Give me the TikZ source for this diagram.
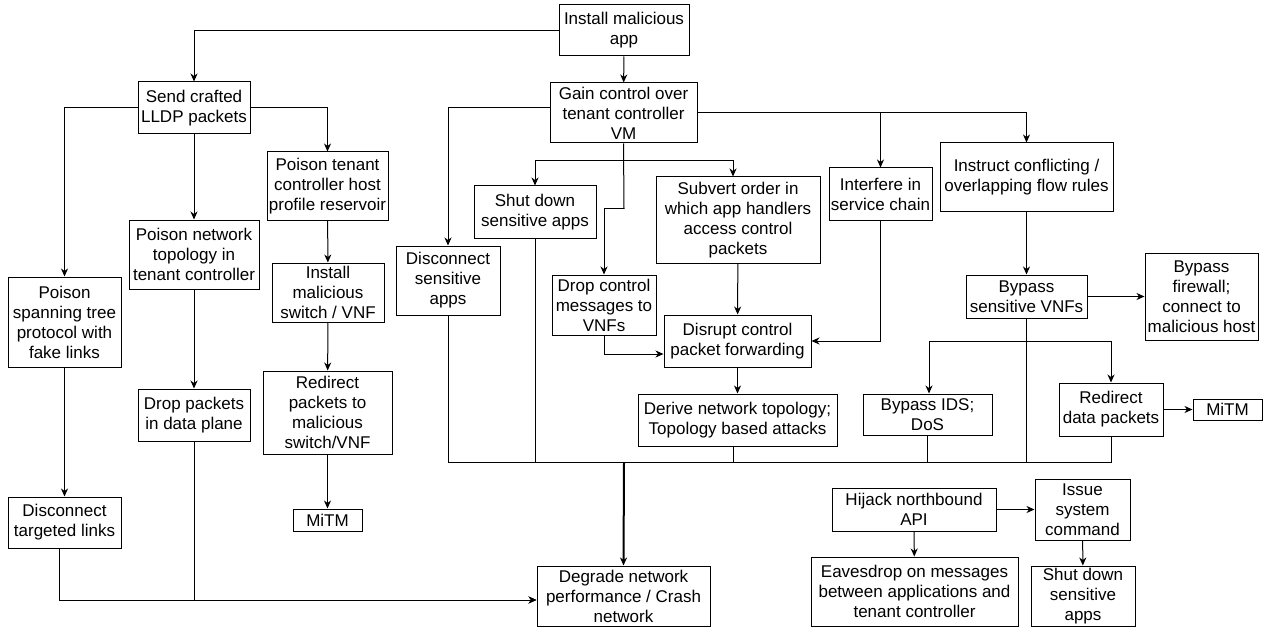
\documentclass[tikz,border=0pt]{standalone}
\usepackage{fontspec}
\setmainfont{Liberation Sans}
\usetikzlibrary{arrows.meta,calc,positioning}

\begin{document}
\begin{tikzpicture}[x=1pt,y=-1pt,
    box/.style={draw,line width=1pt,align=center,inner sep=0pt,font=\fontsize{17}{20}\selectfont},
    wire/.style={line width=1pt},
    arr/.style={line width=1pt,-{Stealth[length=8pt,width=7pt,inset=2.5pt]}}]
  \useasboundingbox (0,0) rectangle (1271,631);

  % top of the tree
  \node[box,minimum width=130,minimum height=51] (app) at (624,30.5) {Install malicious\\app};
  \node[box,minimum width=147,minimum height=60] (gain) at (623.5,113) {Gain control over\\tenant controller\\VM};
  \node[box,minimum width=112,minimum height=52] (lldp) at (194,108) {Send crafted\\LLDP packets};

  % LLDP branch
  \node[box,minimum width=121,minimum height=68] (hostprof) at (327.5,186) {Poison tenant\\controller host\\profile reservoir};
  \node[box,minimum width=130,minimum height=69] (poisontopo) at (194,254.5) {Poison network\\topology in\\tenant controller};
  \node[box,minimum width=113,minimum height=90] (stp) at (64.5,322) {Poison\\spanning tree\\protocol with\\fake links};
  \node[box,minimum width=112,minimum height=59] (instsw) at (328,292.5) {Install\\malicious\\switch / VNF};
  \node[box,minimum width=129,minimum height=83] (redir) at (327.5,412.5) {Redirect\\packets to\\malicious\\switch/VNF};
  \node[box,minimum width=69,minimum height=22] (mitmA) at (327.5,520) {MiTM};
  \node[box,minimum width=112,minimum height=52] (droppkt) at (194,415) {Drop packets\\in data plane};
  \node[box,minimum width=113,minimum height=51] (disclink) at (64.5,522.5) {Disconnect\\targeted links};

  % controller branch
  \node[box,minimum width=104,minimum height=69] (discapp) at (448,280.5) {Disconnect\\sensitive\\apps};
  \node[box,minimum width=122,minimum height=52] (shutA) at (535,212) {Shut down\\sensitive apps};
  \node[box,minimum width=104,minimum height=60] (dropctl) at (604,305) {Drop control\\messages to\\VNFs};
  \node[box,minimum width=164,minimum height=86] (subvert) at (738,220) {Subvert order in\\which app handlers\\access control\\packets};
  \node[box,minimum width=147,minimum height=52] (disrupt) at (737.5,341) {Disrupt control\\packet forwarding};
  \node[box,minimum width=199,minimum height=52] (derive) at (737.5,420) {Derive network topology;\\Topology based attacks};
  \node[box,minimum width=103,minimum height=52] (interf) at (880.5,194) {Interfere in\\service chain};
  \node[box,minimum width=173,minimum height=69] (instruct) at (1026.5,177.5) {Instruct conflicting /\\overlapping flow rules};
  \node[box,minimum width=121,minimum height=43] (bypvnf) at (1026.5,296.5) {Bypass\\sensitive VNFs};
  \node[box,minimum width=113,minimum height=87] (bypfw) at (1201.5,296.5) {Bypass\\firewall;\\connect to\\malicious host};
  \node[box,minimum width=129,minimum height=41] (bypids) at (927.5,414.5) {Bypass IDS;\\DoS};
  \node[box,minimum width=104,minimum height=53] (redird) at (1111,409.5) {Redirect\\data packets};
  \node[box,minimum width=69,minimum height=21] (mitmB) at (1227.5,409.5) {MiTM};
  \node[box,minimum width=173,minimum height=60] (degrade) at (623.5,596) {Degrade network\\performance / Crash\\network};

  % northbound API
  \node[box,minimum width=164,minimum height=43] (hijack) at (914,509.5) {Hijack northbound\\API};
  \node[box,minimum width=207,minimum height=69] (eaves) at (914.5,591.5) {Eavesdrop on messages\\between applications and\\tenant controller};
  \node[box,minimum width=95,minimum height=61] (issue) at (1082.5,509.5) {Issue\\system\\command};
  \node[box,minimum width=104,minimum height=60] (shutB) at (1083,596) {Shut down\\sensitive\\apps};

  \coordinate (ga) at (624,161);
  \coordinate (gb) at (624,209);
  \coordinate (vb) at (1026.5,341);
  \coordinate (bus) at (624,462);

  \draw[arr] (app.west) -| (lldp.north);
  \draw[arr] (app) -- (gain);
  \draw[arr] (lldp.west) -| (stp.north);
  \draw[arr] (lldp.east) -| (hostprof.north);
  \draw[arr] (lldp) -- (poisontopo);
  \draw[arr] (poisontopo) -- (droppkt);
  \draw[arr] (hostprof) -- (instsw);
  \draw[arr] (instsw) -- (redir);
  \draw[arr] (redir) -- (mitmA);
  \draw[arr] (stp) -- (disclink);

  \draw[arr] ([yshift=5]gain.west) -| (discapp.north);
  \draw[arr] (gain.east) -| (interf.north);
  \draw[arr] (gain.east) -| (instruct.north);
  \draw[wire] (gain.south) -- (gb);
  \draw[arr] (ga) -| (shutA.north);
  \draw[arr] (ga) -| ([xshift=-5]subvert.north);
  \draw[arr] (gb) -| (dropctl.north);
  \draw[arr] (subvert) -- (disrupt);
  \draw[arr] (dropctl.south) |- ([yshift=-13]disrupt.west);
  \draw[arr] (interf.south) |- (disrupt.east);
  \draw[arr] (disrupt) -- (derive);

  \draw[arr] (instruct) -- (bypvnf);
  \draw[arr] (bypvnf.east) -- (bypvnf.east -| bypfw.west);
  \draw[arr] (vb) -| ([xshift=1.5]bypids.north);
  \draw[arr] (vb) -| (redird.north);
  \draw[arr] (redird.east) -- (mitmB.west);

  \foreach \n in {discapp,shutA,bypids,bypvnf,redird}
    \draw[wire] (\n.south) |- (bus);
  \draw[wire] ([xshift=-4.5]derive.south) |- (bus);
  \draw[arr,line width=2pt] (bus) -- (degrade.north);
  \draw[arr] ([xshift=-5.5]disclink.south) |- ([yshift=-4]degrade.west);
  \draw[arr] (droppkt.south) |- ([yshift=-4]degrade.west);

  \draw[arr] (hijack.east) -- (issue.west);
  \draw[arr] (hijack) -- (eaves);
  \draw[arr] (issue) -- (shutB);
\end{tikzpicture}
\end{document}
